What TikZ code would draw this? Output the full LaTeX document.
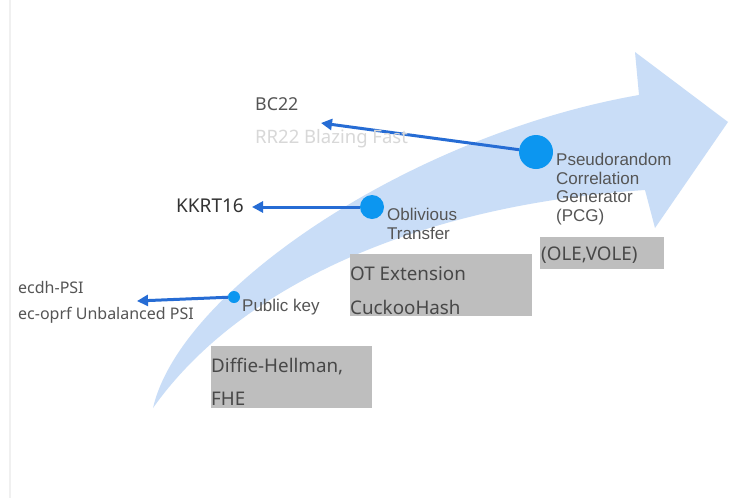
\documentclass[tikz,border=0pt]{standalone}
\usepackage{fontspec}
\setmainfont{Noto Sans}
\newfontfamily\helv{Liberation Sans}
\usetikzlibrary{arrows.meta}
\definecolor{bandblue}{RGB}{201,221,247}
\definecolor{dotblue}{RGB}{12,150,240}
\definecolor{linkblue}{RGB}{38,108,212}
\definecolor{boxgray}{RGB}{190,190,190}
\definecolor{txtgray}{RGB}{85,85,85}
\definecolor{faint}{RGB}{216,216,216}
\tikzset{
  dot/.style={circle,fill=dotblue,inner sep=0pt,minimum size=#1},
  link/.style={draw=linkblue,line width=3pt,-{Triangle[length=11pt,width=11pt]}},
  lbl/.style={anchor=west,inner sep=0pt,text=txtgray},
  hlbl/.style={anchor=north west,inner sep=0pt,text=txtgray,font=\helv\fontsize{17}{18.5}\selectfont,align=left},
  graybox/.style={fill=boxgray,draw=none},
  boxtxt/.style={anchor=west,inner sep=0pt,text=txtgray!85!black,font=\fontsize{18.8}{20}\selectfont}
}
\begin{document}
\begin{tikzpicture}[x=1pt,y=-1pt]
\useasboundingbox (0,0) rectangle (736,498);
\fill[white] (0,0) rectangle (736,498);
\fill[black!6] (8.5,0) rectangle (10.5,498);
% big curved arrow
\fill[bandblue] (153,408) .. controls (180,290) and (410,135) .. (639,95)
  -- (635,52) -- (728,122) -- (655,228) -- (645,190)
  .. controls (420,205) and (240,285) .. (153,408) -- cycle;
% gray boxes
\fill[graybox] (211,346) rectangle (372,408);
\fill[graybox] (350,254) rectangle (532,316);
\fill[graybox] (540,237) rectangle (664,269);
\node[boxtxt] (dh) at (211,367) {Diffie-Hellman,};
\node[boxtxt] (fhe) at (211,399) {FHE};
\node[boxtxt] (ote) at (350,274) {OT Extension};
\node[boxtxt] (ch) at (350,307) {CuckooHash};
\node[boxtxt] (ole) at (541,255) {(OLE,VOLE)};
% dots
\node[dot=12pt] (pk) at (234,297) {};
\node[dot=24pt] (ot) at (372,207) {};
\node[dot=34pt] (pcg) at (536,152) {};
% tips
\coordinate (pkt) at (137,301);
\coordinate (ott) at (252,207);
\coordinate (pcgt) at (321,123);
\draw[link] (pk) -- (pkt);
\draw[link] (ot) -- (ott);
\draw[link] (pcg) -- (pcgt);
% labels
\node[lbl,font=\fontsize{17.8}{20}\selectfont] (bc) at (255,104) {BC22};
\node[lbl,text=faint,font=\fontsize{18.5}{20}\selectfont] (rr) at (255,139) {RR22 Blazing Fast};
\node[lbl,text=black!80,font=\fontsize{19}{20}\selectfont] (kk) at (176,206) {KKRT16};
\node[lbl,font=\fontsize{16}{18}\selectfont] (ecdh) at (18,287) {ecdh-PSI};
\node[lbl,font=\fontsize{16}{18}\selectfont] (ecop) at (18,315) {ec-oprf Unbalanced PSI};
\node[lbl,font=\helv\fontsize{17}{20}\selectfont] (pkl) at (242,307) {Public key};
\node[hlbl] (otl) at (387,208) {Oblivious\\Transfer};
\node[hlbl] (pcgl) at (556,153) {Pseudorandom\\Correlation\\Generator\\(PCG)};
\end{tikzpicture}
\end{document}
